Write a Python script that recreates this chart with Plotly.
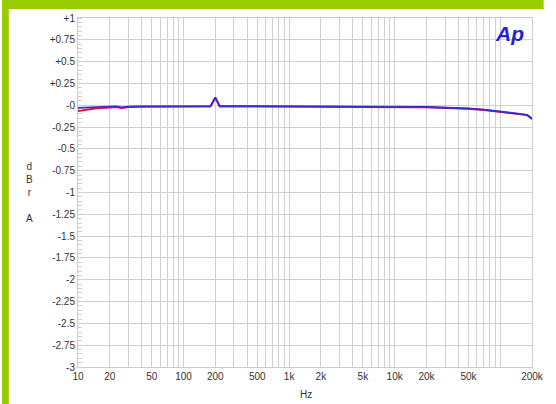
import plotly.graph_objects as go

# Data
freq = [10, 12, 15, 20, 23, 26, 30, 40, 50, 70, 100, 150, 180, 200, 220, 300, 500,
        1000, 2000, 5000, 10000, 15000, 20000, 30000, 50000, 70000, 100000,
        130000, 160000, 180000, 200000]
blue = [-0.03, -0.025, -0.02, -0.015, -0.012, -0.025, -0.015, -0.014, -0.013, -0.012,
        -0.01, -0.01, -0.01, 0.09, -0.01, -0.01, -0.01,
        -0.01, -0.01, -0.012, -0.015, -0.018, -0.02, -0.025, -0.037, -0.05, -0.07,
        -0.085, -0.095, -0.11, -0.155]
red = [-0.065, -0.05, -0.035, -0.025, -0.02, -0.03, -0.02, -0.018, -0.016, -0.015,
       -0.014, -0.014, -0.014, 0.085, -0.014, -0.014, -0.014,
       -0.014, -0.014, -0.016, -0.019, -0.022, -0.024, -0.029, -0.041, -0.054, -0.074,
       -0.089, -0.099, -0.113, -0.157]

x_grid = [m * 10 ** e for e in range(1, 6) for m in range(1, 10)] + [200000]
x_labels = {10: "10", 20: "20", 50: "50", 100: "100", 200: "200", 500: "500",
            1000: "1k", 2000: "2k", 5000: "5k", 10000: "10k", 20000: "20k",
            50000: "50k", 200000: "200k"}
x_text = [x_labels.get(v, "") for v in x_grid]

y_vals = [1 - 0.25 * i for i in range(17)]
y_text = ["+1", "+0.75", "+0.5", "+0.25", "-0", "-0.25", "-0.5", "-0.75", "-1",
          "-1.25", "-1.5", "-1.75", "-2", "-2.25", "-2.5", "-2.75", "-3"]

W, H = 556, 404
L, R, T, B = 78, 12, 18, 37
pw, ph = W - L - R, H - T - B

fig = go.Figure()
fig.add_trace(go.Scatter(x=freq, y=red, mode="lines",
                         line=dict(color="#e8104a", width=2), showlegend=False))
fig.add_trace(go.Scatter(x=freq, y=blue, mode="lines",
                         line=dict(color="#3a2ad0", width=1.8), showlegend=False))

font = dict(family="Liberation Sans, Arial, sans-serif", size=10, color="#333333")

fig.update_layout(
    width=W, height=H,
    margin=dict(l=L, r=R, t=T, b=B),
    paper_bgcolor="white", plot_bgcolor="white",
    font=font,
    xaxis=dict(type="log", range=[1, 5.30103], tickvals=x_grid, ticktext=x_text,
               showgrid=True, gridcolor="#d0d0d0", gridwidth=1,
               showline=True, linecolor="#cccccc", mirror=True,
               ticks="", tickfont=font, zeroline=False),
    yaxis=dict(range=[-3, 1], tickvals=y_vals, ticktext=y_text,
               showgrid=True, gridcolor="#d0d0d0", gridwidth=1,
               showline=True, linecolor="#cccccc", mirror=True,
               ticks="", tickfont=font, zeroline=False,
               minor=dict(ticks="inside", dtick=0.05, ticklen=4,
                          tickcolor="#d0d0d0", showgrid=False)),
)

def px_x(p):
    return (p - L) / pw

def px_y(p):
    return (H - B - p) / ph

shapes = [
    dict(type="rect", xref="paper", yref="paper", x0=px_x(0), x1=px_x(W),
         y0=px_y(9), y1=px_y(0), fillcolor="#99cc00", line=dict(width=0), layer="above"),
    dict(type="rect", xref="paper", yref="paper", x0=px_x(0), x1=px_x(7),
         y0=px_y(H), y1=px_y(0), fillcolor="#99cc00", line=dict(width=0), layer="above"),
]
fig.update_layout(shapes=shapes)

fig.add_annotation(text="d<br>B<br>r<br><br>A", xref="paper", yref="paper",
                   x=px_x(28), y=px_y(192), showarrow=False, font=font,
                   xanchor="center", yanchor="middle")
fig.add_annotation(text="Hz", xref="paper", yref="paper",
                   x=px_x(312), y=px_y(394), showarrow=False, font=font,
                   xanchor="center", yanchor="middle")
fig.add_annotation(text="<b><i>Ap</i></b>", xref="paper", yref="paper",
                   x=px_x(521), y=px_y(33), showarrow=False,
                   font=dict(family="Liberation Sans, Arial, sans-serif", size=21,
                             color="#2020d8"),
                   xanchor="center", yanchor="middle")

fig.write_html("out.html")
